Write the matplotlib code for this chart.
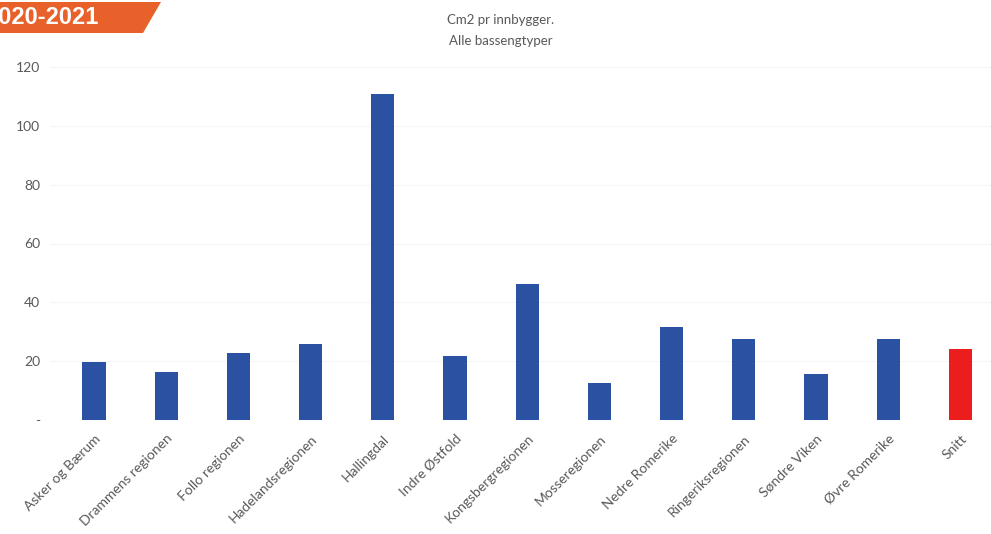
import matplotlib.pyplot as plt
from matplotlib.patches import Polygon

# data
regions = ['Asker og Bærum', 'Drammens regionen', 'Follo regionen', 'Hadelandsregionen',
           'Hallingdal', 'Indre Østfold', 'Kongsbergregionen', 'Mosseregionen',
           'Nedre Romerike', 'Ringeriksregionen', 'Søndre Viken', 'Øvre Romerike', 'Snitt']
cm2 = [19.7, 16.3, 22.8, 25.9, 110.9, 21.8, 46.3, 12.6, 31.6, 27.6, 15.6, 27.6, 24.1]
yticks = [0, 20, 40, 60, 80, 100, 120]
ytick_labels = ['-', '20', '40', '60', '80', '100', '120']

plt.rcParams['font.family'] = ['Lato', 'DejaVu Sans']

blue = '#2A51A2'
red = '#EC1D1D'
colors = [blue] * (len(regions) - 1) + [red]

W, H = 991, 534
fig = plt.figure(figsize=(W / 100, H / 100), dpi=100)

# axes placed in pixel terms: baseline at y=420, 120 at y=67
left_px, right_px = 50, 991
ax = fig.add_axes([left_px / W, (H - 420) / H, (right_px - left_px) / W, (420 - 67) / H])
step = 72.2
x0 = 94
ax.set_xlim((left_px - x0) / step, (right_px - x0) / step)
ax.set_ylim(0, 120)

x = list(range(len(regions)))
ax.bar(x, cm2, width=0.32, color=colors, zorder=3)

ax.set_yticks(yticks)
ax.set_yticklabels(ytick_labels)
ax.set_xticks(x)
ax.set_xticklabels(regions, rotation=45, ha='right', rotation_mode='anchor')
ax.tick_params(axis='both', length=0, colors='#595959', labelsize=10)
ax.tick_params(axis='y', pad=7)
ax.tick_params(axis='x', pad=9)
ax.grid(axis='y', color='#f5f5f5', linewidth=0.8, zorder=0)
for s in ax.spines.values():
    s.set_visible(False)

fig.text(0.505, 1 - 20 / H, 'Cm2 pr innbygger.', ha='center', va='center',
         fontsize=9.5, color='#595959')
fig.text(0.505, 1 - 41 / H, 'Alle bassengtyper', ha='center', va='center',
         fontsize=9.5, color='#595959')

# orange year badge in the top left corner (cropped at the left edge, as in the reference)
badge = Polygon([(0, 1 - 2 / H), (161 / W, 1 - 2 / H), (143 / W, 1 - 33 / H), (0, 1 - 33 / H)],
                closed=True, transform=fig.transFigure, facecolor='#E8602A',
                edgecolor='none', zorder=5)
fig.patches.append(badge)
fig.text(99 / W, 1 - 18 / H, '2020-2021', ha='right', va='center', fontsize=17,
         fontweight='bold', color='white', family=['Liberation Sans', 'DejaVu Sans'],
         zorder=6)

fig.savefig('out.png', dpi=100)
